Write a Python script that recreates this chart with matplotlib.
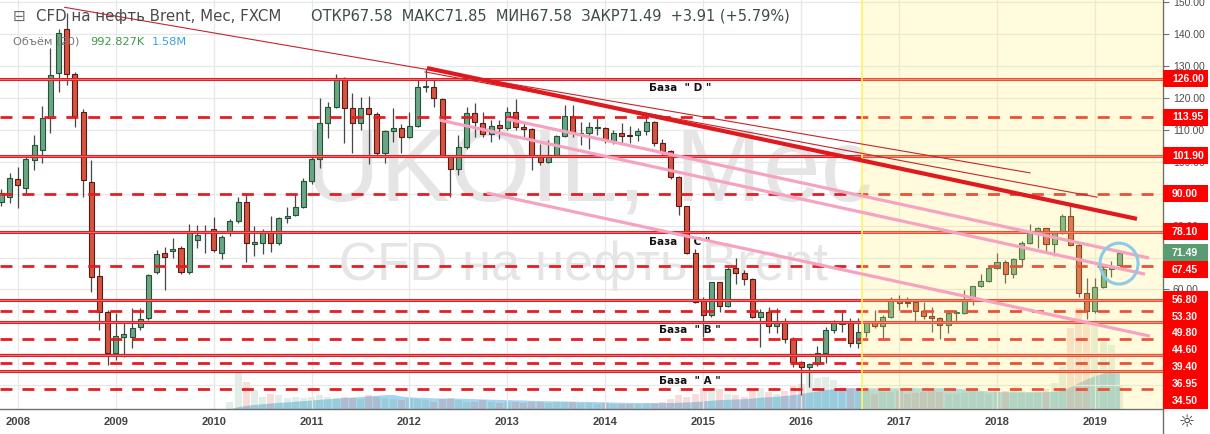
import numpy as np
import pandas as pd
import matplotlib
matplotlib.use('Agg')
import matplotlib.pyplot as plt
import matplotlib.transforms as mtransforms
from matplotlib.patches import Ellipse, Rectangle
from matplotlib.lines import Line2D

plt.rcParams['font.family'] = ['Liberation Sans', 'DejaVu Sans']

# monthly candles, Nov 2007 .. Apr 2019
months = pd.period_range('2007-11', '2019-04', freq='M')

opens = [87.3, 89.0,
         94.6, 91.8, 100.5, 103.6, 113.7, 127.7, 141.5, 127.4, 115.5, 93.6, 64.2, 53.0,
         40.1, 45.2, 45.1, 48.3, 51.1, 65.5, 71.4, 72.0, 73.0, 65.5, 75.5, 77.7,
         78.9, 71.4, 77.7, 81.4, 87.4, 74.3, 74.6, 78.0, 74.6, 82.4, 83.3, 85.8,
         94.0, 100.8, 112.1, 117.1, 126.2, 116.8, 112.1, 116.8, 114.9, 102.7, 109.6, 110.5,
         107.7, 111.2, 123.3, 123.4, 119.6, 101.8, 97.7, 104.6, 115.2, 112.1, 108.7, 111.5,
         110.5, 115.5, 110.8, 110.2, 101.8, 99.9, 102.0, 108.0, 114.3, 108.7, 109.0, 110.6,
         110.5, 106.5, 109.0, 108.3, 108.3, 109.6, 112.4, 105.8, 103.3, 95.2, 86.1, 71.4,
         56.7, 52.0, 62.3, 54.8, 66.7, 65.1, 63.3, 51.4, 53.0, 48.6, 49.5, 44.5,
         37.3, 35.7, 36.7, 40.1, 47.3, 49.3, 49.5, 43.2, 46.7, 49.8, 48.6, 51.4,
         57.0, 56.1, 56.1, 53.3, 51.7, 51.1, 48.9, 52.6, 52.6, 56.7, 61.1, 62.7,
         66.7, 68.6, 64.8, 69.5, 74.5, 77.8, 79.2, 74.2, 77.7, 83.0, 73.9, 58.9,
         53.3, 60.8, 66.3, 67.58]
highs = [91.5, 96.4,
         98.3, 102.0, 108.3, 117.4, 135.6, 141.5, 146.5, 128.0, 116.5, 100.5, 67.7, 53.5,
         52.6, 49.8, 54.2, 54.2, 64.8, 72.3, 73.3, 76.1, 73.5, 80.5, 80.2, 80.2,
         82.7, 77.0, 82.0, 88.9, 90.2, 79.9, 79.0, 83.0, 82.6, 85.8, 89.9, 94.9,
         101.5, 119.9, 118.7, 127.4, 126.5, 121.5, 120.2, 120.5, 115.5, 109.8, 116.8, 111.8,
         115.5, 126.2, 129.0, 126.2, 120.0, 101.8, 108.3, 117.1, 118.4, 115.5, 113.0, 113.0,
         117.0, 119.6, 112.0, 110.5, 105.5, 106.8, 108.5, 117.7, 117.7, 112.4, 112.4, 113.7,
         110.8, 110.0, 112.0, 111.2, 110.5, 115.2, 112.8, 107.0, 103.8, 95.5, 86.2, 72.7,
         57.6, 62.5, 62.4, 66.9, 69.9, 66.1, 63.6, 53.9, 54.5, 54.2, 51.0, 45.1,
         37.5, 37.0, 42.3, 48.3, 50.5, 53.0, 51.0, 51.0, 49.8, 53.6, 52.0, 57.8,
         58.3, 57.5, 56.4, 56.1, 54.5, 51.5, 53.0, 53.6, 59.8, 61.1, 64.8, 67.0,
         71.4, 69.2, 70.0, 75.2, 80.5, 79.5, 79.4, 77.8, 83.5, 86.4, 74.9, 63.6,
         63.6, 67.2, 68.9, 71.85]
lows = [86.0, 87.1,
        85.5, 89.5, 97.4, 99.6, 109.0, 121.8, 124.0, 111.0, 89.0, 59.2, 47.3, 36.4,
        37.9, 38.9, 41.7, 47.3, 50.5, 64.8, 59.8, 69.9, 64.8, 65.0, 73.0, 71.4,
        71.7, 69.5, 76.8, 80.8, 68.6, 70.5, 71.1, 71.7, 74.0, 80.8, 83.0, 85.5,
        93.0, 98.0, 107.4, 116.8, 105.8, 102.7, 109.9, 99.3, 102.0, 99.6, 106.2, 102.7,
        107.4, 111.0, 121.8, 117.1, 101.5, 89.0, 95.8, 104.0, 107.7, 107.7, 106.2, 107.0,
        110.0, 109.9, 107.0, 97.4, 99.0, 99.6, 101.5, 107.7, 107.7, 105.2, 104.0, 108.3,
        105.8, 105.6, 105.6, 105.9, 106.5, 108.3, 105.0, 101.5, 94.7, 83.3, 71.2, 55.8,
        45.1, 51.5, 53.0, 54.5, 61.7, 61.4, 51.0, 42.0, 46.4, 46.4, 43.2, 35.7,
        27.0, 29.5, 36.2, 37.0, 46.5, 46.7, 42.0, 41.7, 45.1, 48.0, 44.2, 51.0,
        53.6, 54.5, 49.8, 50.7, 46.7, 44.5, 46.4, 49.9, 52.3, 55.3, 60.8, 62.3,
        66.4, 62.0, 63.6, 67.0, 74.2, 73.0, 72.0, 70.5, 77.3, 73.6, 57.6, 50.8,
        52.6, 60.5, 63.9, 67.58]
closes = [90.2, 94.9,
          92.7, 100.8, 105.2, 113.7, 127.1, 140.3, 127.4, 114.3, 94.3, 63.9, 53.0, 40.1,
          45.4, 46.0, 47.9, 50.8, 64.5, 71.1, 70.2, 72.7, 65.5, 78.3, 77.0, 78.3,
          72.4, 76.4, 81.4, 87.4, 74.5, 75.0, 78.0, 74.6, 82.4, 83.0, 85.8, 94.0,
          100.8, 112.1, 117.1, 126.2, 116.8, 112.1, 116.8, 114.9, 102.7, 109.6, 110.5, 107.7,
          111.2, 123.4, 123.6, 119.9, 101.8, 97.7, 104.6, 115.2, 112.4, 108.7, 111.2, 110.5,
          115.5, 110.8, 110.2, 101.8, 99.9, 102.0, 108.0, 114.3, 109.0, 109.0, 110.8, 110.9,
          107.0, 109.0, 108.0, 108.0, 109.6, 112.4, 105.8, 103.3, 95.2, 86.1, 71.4, 56.1,
          52.0, 62.3, 54.8, 66.4, 65.1, 63.3, 51.4, 53.0, 48.6, 49.5, 44.5, 37.3,
          35.7, 36.7, 40.1, 47.3, 49.5, 49.6, 43.2, 46.7, 49.8, 48.6, 51.4, 57.0,
          55.8, 55.8, 53.3, 51.7, 51.1, 48.9, 52.6, 52.9, 56.7, 61.1, 62.7, 66.7,
          68.6, 64.8, 69.5, 74.5, 78.0, 79.2, 74.2, 77.7, 83.0, 73.9, 58.9, 53.3,
          60.8, 66.4, 67.4, 71.49]

# volume in millions, Mar 2010 .. Apr 2019
volumes = [0.3, 1.58, 1.1, 0.77, 0.5, 0.6, 0.55, 0.45, 0.5, 0.45,
           0.5, 0.55, 0.5, 0.45, 0.5, 0.45, 0.4, 0.55, 0.5, 0.45, 0.4, 0.35,
           0.45, 0.4, 0.35, 0.3, 0.4, 0.45, 0.35, 0.3, 0.3, 0.35, 0.3, 0.25,
           0.3, 0.3, 0.25, 0.3, 0.3, 0.25, 0.3, 0.3, 0.3, 0.25, 0.25, 0.2,
           0.25, 0.2, 0.2, 0.2, 0.2, 0.25, 0.25, 0.3, 0.4, 0.55, 0.5, 0.6,
           0.85, 0.75, 0.8, 0.6, 0.55, 0.5, 0.75, 0.85, 0.7, 0.6, 0.75, 0.97,
           1.0, 1.45, 1.25, 1.3, 1.17, 0.9, 0.85, 0.8, 0.75, 0.6, 0.7, 0.7,
           0.75, 0.6, 0.65, 0.7, 0.75, 0.7, 0.6, 0.6, 0.65, 0.75, 0.7, 0.6,
           0.8, 0.75, 0.85, 0.75, 0.7, 0.7, 0.8, 1.05, 1.7, 3.3, 4.1, 3.6,
           3.5, 2.7, 2.6, 0.99]

solid_levels = [126.00, 101.90, 78.10, 56.80, 49.80, 39.40, 34.50]
dashed_levels = [113.95, 90.00, 67.45, 53.30, 44.60, 36.95, 28.80]
axis_labels = [126.00, 113.95, 101.90, 90.00, 78.10, 67.45, 56.80, 53.30,
               49.80, 44.60, 39.40, 36.95, 34.50]

# drawn trend lines: (month index from Jan 2008, price) endpoints
trend_thin_a = ([5.75, 124.05], [148.3, 96.5])
trend_thin_b = ([49.9, 132.25], [128.1, 88.9])
trend_main = ([50.15, 137.15], [129.3, 82.1])
channel_1 = ([59.95, 138.65], [113.35, 69.85])
channel_2 = ([51.75, 138.15], [113.0, 64.8])
channel_3 = ([57.5, 138.75], [90.2, 45.4])

bases = [('База  " D "', 81.15, 123.1), ('База  " C "', 81.15, 74.9),
         ('База  " B "', 82.4, 47.3), ('База  " A "', 82.4, 31.3)]

years = list(range(2008, 2020))

o = np.array(opens); h = np.array(highs); l = np.array(lows); c = np.array(closes)
t = np.array((months.year - 2008) * 12 + months.month - 1)
up = c >= o

fig = plt.figure(figsize=(12.1, 4.34), dpi=100)
ax = fig.add_axes([0, 25 / 434, 1163 / 1210, 409 / 434])
ax2 = ax.twinx()
ax.set_zorder(2)
ax2.set_zorder(1)
ax.patch.set_visible(False)

# volume pane
vol = pd.Series(np.r_[np.zeros(len(t) - len(volumes)), volumes])
vol_ma = vol.rolling(20, min_periods=1).mean().values[-len(volumes):]
vt = t[-len(volumes):]
vup = up[-len(volumes):]
ax2.fill_between(vt, 0, vol_ma, color='#a6d5f2', lw=0)
ax2.bar(vt, volumes, width=0.85, color=np.where(vup, '#6ba583', '#d75442'), alpha=0.2)
ax2.set_ylim(0, 16.6)
ax2.set_axis_off()

# watermark
ax.text(70.0, 88.0, 'UKOIL, Мес', fontsize=75, color='#e5e5e5', ha='center', va='baseline', zorder=1)
ax.text(69.3, 63.0, 'CFD на нефть Brent', fontsize=38, color='#e5e5e5', ha='center', va='baseline', zorder=1)

# candles
body_lo = np.minimum(o, c)
body_h = np.maximum(np.abs(c - o), 0.3)
ax.vlines(t, l, h, color='#474747', lw=0.9, zorder=3)
ax.bar(t[up], body_h[up], bottom=body_lo[up], width=0.62, color='#6ba583',
       edgecolor='#225437', lw=0.8, zorder=4)
ax.bar(t[~up], body_h[~up], bottom=body_lo[~up], width=0.62, color='#d75442',
       edgecolor='#5b1a13', lw=0.8, zorder=4)

# levels
for v in solid_levels:
    ax.axhline(v, color='#e31e24', lw=2.2, zorder=5)
    ax.axhline(v, color='#f29090', lw=0.5, zorder=5.1)
for v in dashed_levels:
    ax.axhline(v, color='#e31e24', lw=2.0, dashes=(4.3, 3.6), zorder=5)

for txt, x, y in bases:
    ax.text(x, y, txt, family='DejaVu Sans', fontsize=7.5, fontweight='bold',
            color='#111111', ha='center', va='center', zorder=2)

# highlighted period
ax.axvspan(103.5, 141, color='#fff176', alpha=0.25, lw=0, zorder=10)
ax.axvline(103.5, color='#fff35c', lw=1.2, zorder=11)

# trend lines sit above the highlight
for xs, ys in [trend_thin_a, trend_thin_b]:
    ax.plot(xs, ys, color='#c4262c', lw=0.8, zorder=12)
ax.plot(*trend_main, color='#e0191e', lw=3, zorder=12, solid_capstyle='butt')
for xs, ys in [channel_1, channel_2, channel_3]:
    ax.plot(xs, ys, color='#f5a3c0', lw=2.3, zorder=12, solid_capstyle='butt')

ax.add_patch(Ellipse((134.95, 68.1), 4.66, 12.8, fill=False, ec='#8ccbe6', lw=2.2, zorder=13))

ax.set_xlim(-2.18, 140.34)
ax.set_ylim(22.6, 150.6)
ax.set_xticks([(y - 2008) * 12 for y in years])
ax.set_xticklabels([str(y) for y in years], fontweight='bold')
ax.set_yticks(np.arange(30, 151, 10))
# ticks under the stacked price boxes are hidden anyway
ax.yaxis.set_major_formatter(lambda v, pos: f'{v:.2f}' if v >= 60 else '')
ax.yaxis.tick_right()
ax.tick_params(axis='x', length=0, pad=5.5, labelsize=8, labelcolor='#444444')
ax.tick_params(axis='y', length=4, width=0.8, color='#6e6e6e', labelsize=7.5,
               labelcolor='#4d4d4d', pad=3)
ax.set_axisbelow(True)
ax.grid(True, color='#e8e8e8', lw=0.9)
for s in ['top', 'left']:
    ax.spines[s].set_visible(False)
for s in ['bottom', 'right']:
    ax.spines[s].set_color('#6e6e6e')
    ax.spines[s].set_linewidth(1)

# price labels on the axis, stacked so they don't overlap
trans = mtransforms.blended_transform_factory(ax.transAxes, ax.transData)
hh = 5.26
items = sorted([(v, '#ff0000') for v in axis_labels] + [(c[-1], '#5b9b72')], reverse=True)
prev = None
for v, col in items:
    pos = v if prev is None else min(v, prev - hh)
    prev = pos
    ax.add_patch(Rectangle((1.0, pos - hh / 2), 45 / 1163, hh, transform=trans,
                           fc=col, ec='none', clip_on=False, zorder=20))
    ax.text(1172 / 1163, pos, f'{v:.2f}', transform=trans, color='white', fontsize=7.5,
            fontweight='bold', ha='left', va='center', clip_on=False, zorder=21)

# header
fig.text(13 / 1210, 1 - 16 / 434, '⊟', family='DejaVu Sans', fontsize=11, color='#666666', va='center')
fig.text(36 / 1210, 1 - 16 / 434, 'CFD на нефть Brent, Мес, FXCM', family='DejaVu Sans',
         fontsize=10.8, color='#4a4a4a', va='center')
fig.text(311 / 1210, 1 - 16 / 434, 'ОТКР67.58  МАКС71.85  МИН67.58  ЗАКР71.49  +3.91 (+5.79%)',
         family='DejaVu Sans', fontsize=10.5, color='#3c4f44', va='center')
fig.text(13 / 1210, 1 - 42 / 434, 'Объём (20)', family='DejaVu Sans', fontsize=8.2, color='#777777', va='center')
fig.text(90 / 1210, 1 - 42 / 434, '992.827K', family='DejaVu Sans', fontsize=8.2, color='#3d9b46', va='center')
fig.text(152 / 1210, 1 - 42 / 434, '1.58M', family='DejaVu Sans', fontsize=8.2, color='#36a2e0', va='center')

fig.add_artist(Line2D([1163 / 1210] * 2, [0, 25 / 434], color='#6e6e6e', lw=1))
fig.text(1187 / 1210, 12 / 434, '☼', family='DejaVu Sans', fontsize=13, color='#333333',
         ha='center', va='center')

fig.savefig('out.png', dpi=100, facecolor='white')
